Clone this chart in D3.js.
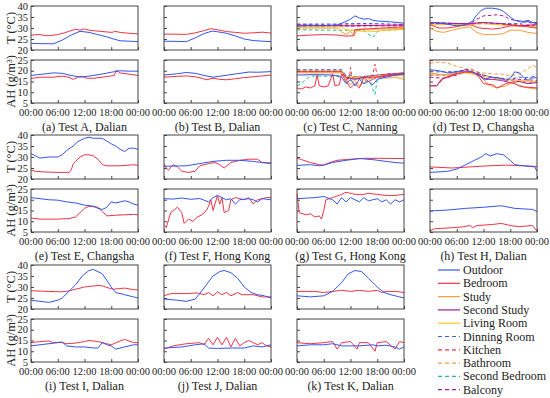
<!DOCTYPE html>
<html>
<head>
<meta charset="utf-8">
<script src="https://cdn.jsdelivr.net/npm/d3@7"></script>
<style>
body{margin:0;background:#fff;}
svg text{font-family:'Times New Roman',Times,'Liberation Serif','DejaVu Serif',serif;fill:#222;}
</style>
</head>
<body>
<svg id="fig"></svg>
<script>
// legend / series styling
var rooms = ["Outdoor","Bedroom","Study","Second Study","Living Room","Dinning Room","Kitchen","Bathroom","Second Bedroom","Balcony"];
var roomColors = ["#3355ee","#ee3344","#ff9a3a","#a8189c","#ffc21a","#3a5cf0","#ee3344","#ff9a3a","#1ec08c","#a8189c"];
var roomDashed = [false,false,false,false,false,true,true,true,true,true];

var timeTicks = [0,6,12,18,24];
var timeLabels = ["00:00","06:00","12:00","18:00","00:00"];
var tTicks = [20,25,30,35,40];
var ahTicks = [5,10,15,20,25];

var captions = ["(a) Test A, Dalian","(b) Test B, Dalian","(c) Test C, Nanning","(d) Test D, Changsha",
  "(e) Test E, Changsha","(f) Test F, Hong Kong","(g) Test G, Hong Kong","(h) Test H, Dalian",
  "(i) Test I, Dalian","(j) Test J, Dalian","(k) Test K, Dalian"];

// ---- (a) [hour, value]
var aT_out = [[0,23],[2,22.9],[5,22.8],[7,24.5],[9,26.8],[11,28.5],[13,28],[15,27],[17,26],[18.5,25],[20,24.2],[22,24],[24,23.8]];
var aT_bed = [[0,26.7],[1,27],[2,27],[3,26.6],[4,26.5],[6,27],[7.5,27.8],[8.5,28.5],[10,29.4],[11,29],[12,29.6],[13,29],[15,28.6],[17,28.2],[18.2,28],[18.8,28.5],[20,28],[22,27.6],[24,27.3]];
var aAH_out = [[0,17.8],[3,18.5],[5,19],[7,18.8],[9,17.8],[11,17],[13,17.5],[16,18.5],[18.5,19.5],[20,20],[22,19.8],[24,19.8]];
var aAH_bed = [[0,16.4],[2,17],[5,17],[7,17.5],[8.5,17],[9.5,16],[10.5,17],[11.3,17.5],[12.5,16.5],[14,16.5],[16,17],[18,17.6],[18.7,17.8],[19.1,20.3],[20,19],[22,18.4],[24,17.8]];
// ---- (b)
var bT_out = [[0,24],[3,23.9],[5,23.8],[7,25.5],[9,27.5],[10.8,28.6],[12,28.3],[14,27.6],[16,26.4],[18,25],[20,24.3],[22,24],[24,23.8]];
var bT_bed = [[0,27.2],[2,27.2],[5,27.1],[7,27.8],[9,28.8],[10.5,29.7],[12,29.2],[14,28.4],[16,28],[18,27.6],[20,27.8],[22,28.1],[24,27.7]];
var bAH_out = [[0,18],[3,18.6],[5,19.2],[7,18.8],[9,17.8],[11,17],[13,17.6],[16,18.5],[19,19.4],[21,19.3],[24,19.6]];
var bAH_bed = [[0,17],[3,17.4],[5,17.6],[7,17.2],[8.5,16.5],[9.5,15.8],[11,16.5],[12.5,16],[14,15.8],[16,16.3],[18,16.8],[20,17.2],[22,17.6],[24,18]];
// ---- (c) Nanning
var cT_out = [[0,30.9],[3,31.1],[6,31],[9,31.4],[10.5,32.5],[12,34],[13,35.5],[14,34.6],[15,34],[16,34.3],[17,33.5],[18,33.2],[21,32.8],[24,32.2]];
var cT_bed = [[0,26.4],[3,26.8],[6,27],[9,26.8],[11,26.3],[12.7,26.5],[13,29.3],[16,29.6],[20,30.1],[24,30.5]];
var cT_study = [[0,30],[9,30],[10,28.2],[11,27],[12,28.5],[12.8,26.5],[13.5,29.2],[15,29.5],[18,29.5],[24,29.8]];
var cT_study2 = [[0,31.3],[12,31],[24,31.4]];
var cT_living = [[0,30.5],[10,30.5],[11,29.2],[14,28.6],[18,28.5],[20,29],[24,29.4]];
var cT_dinning = [[0,31.8],[10,31.8],[12,32.1],[18,32],[24,31.6]];
var cT_kitchen = [[0,31.5],[12,31.4],[24,31.1]];
var cT_bath = [[0,31.2],[24,31]];
var cT_bed2 = [[0,29.2],[9,29],[12,29],[15,28.9],[16,27.2],[17,25.8],[18,28.4],[19,29],[24,29.3]];
var cT_balcony = [[0,30.8],[24,31]];
var cAH_out = [[0,18],[4,18.2],[8,18],[10,17],[11,14],[12,16],[13,13],[14,16],[15,14],[16,15],[17,13.5],[18,16],[20,17],[22,18],[24,18.5]];
var cAH_bed = [[0,12],[1,11.5],[2,12.5],[3,12],[4,13],[4.5,18],[5,13],[6,12.5],[7,13],[8,18.5],[8.5,13],[9.5,13.5],[10,18.5],[11,15],[12,12],[13,14],[14,12],[15,17],[16,15],[17,16],[18,17],[20,18],[22,18.5],[24,19]];
var cAH_study = [[0,19],[10,19],[11,16],[12,13.5],[13,15.5],[14,13],[16,16],[18,17.5],[20,16.5],[22,17],[24,16]];
var cAH_study2 = [[0,19.5],[10,19.5],[11,17],[13,16],[15,17],[18,17],[24,18.5]];
var cAH_living = [[0,20],[10,20],[11,17.5],[13,17],[16,17],[20,18],[24,17.5]];
var cAH_dinning = [[0,20.5],[10,20.5],[11,18],[14,17],[18,18],[24,19]];
var cAH_kitchen = [[0,20],[10,20],[11,16],[11.8,17],[12,21.5],[12.3,17],[14,17],[17,18],[17.5,23],[18,17.5],[20,18.5],[24,19]];
var cAH_bath = [[0,19.8],[10,19.8],[11,15],[13,16],[16,16.5],[20,18],[24,18]];
var cAH_bed2 = [[0,13],[1,14],[2,16],[3,17.5],[5,17.5],[8,17.5],[10,18],[11,17],[13,16.5],[15,16],[16.5,14],[17.5,9],[18,16],[20,18],[24,18]];
var cAH_balcony = [[0,20],[10,20],[11,16],[13,17],[16,17],[20,18.5],[24,18.5]];
// ---- (d) Changsha
var dT_out = [[0,32.5],[3,32],[6,31],[8,31.5],[9.5,33],[10.5,36],[11.5,38],[12.5,39],[14,39],[15.5,38.5],[16.5,37.5],[18,35],[19,33.5],[21,33],[22,33.5],[23,32.5],[24,32.5]];
var dT_bed = [[0,31.5],[2,30],[4,30],[7,31],[9,31.5],[11,30],[14,29.5],[16,30],[18,31],[20,31],[24,30]];
var dT_study = [[0,30],[1.5,28.5],[3,28],[5,29],[7,30],[9,30.5],[10.5,28],[12,27],[15,27],[16.5,27.5],[18,29],[20,29],[22,28],[24,27.5]];
var dT_study2 = [[0,32.5],[6,32],[9,32],[12,32.5],[16,32],[18,31.5],[20,31],[24,31.5]];
var dT_living = [[0,31.5],[6,31.5],[12,32],[18,31],[24,30.5]];
var dT_dinning = [[0,32.5],[8,32],[12,32.5],[16,32],[20,32],[22,33],[24,32]];
var dT_kitchen = [[0,32],[8,31.8],[12,32.2],[18,31.5],[24,31]];
var dT_bath = [[0,31.8],[9,31.5],[12,32],[18,31.5],[24,31.5]];
var dT_balcony = [[0,32],[9,32],[10.5,34],[12,35.5],[15,36],[16.5,35.5],[18,34],[20,33],[24,32]];
var dAH_out = [[0,20.5],[2,20],[4,19],[6,19.5],[8,20.5],[10,19],[11,18],[12,16],[14,17],[16,16.5],[17,15.5],[18,16.5],[19,19.5],[20,19],[21,17],[22,15.5],[23,17.5],[24,16.5]];
var dAH_bed = [[0,13],[1.5,13],[2.5,16],[4,17],[6,18.5],[8,19.5],[10,19],[11,17],[12,14],[14,13.5],[15,12],[16,13],[17,14],[18,14.5],[19,14],[20,13],[21,12.5],[24,12]];
var dAH_study = [[0,19],[3,18],[6,19],[9,19.5],[11,17.5],[12,16],[13,13.5],[15,12],[17,13],[18.5,14.5],[20,13],[22,12],[24,11.5]];
var dAH_study2 = [[0,13],[1.5,13],[3,16.5],[5,18],[7,19.5],[9,19.5],[11,18],[12.5,16],[14,16],[16,15.5],[18,14.5],[20,15],[22,14],[24,14.5]];
var dAH_living = [[0,18.5],[4,18],[8,19],[12,17.5],[16,16],[20,15.5],[24,15]];
var dAH_dinning = [[0,19.5],[4,19.5],[8,20],[12,18],[14,17],[18,16],[20,17],[24,16.5]];
var dAH_kitchen = [[0,18],[4,18],[7,20],[9,21],[12,18],[16,16],[20,15],[24,14.5]];
var dAH_bath = [[0,23.5],[2,24],[4,23.5],[6,22],[8,21],[10,19.5],[12,19],[14,18.5],[16,18.5],[18,17.5],[20,18.5],[22,21],[23,22.5],[24,21.5]];
var dAH_balcony = [[0,17],[3,16.5],[6,18],[9,20],[12,17.5],[16,16],[20,16],[24,15.5]];
// ---- (e) Changsha
var eT_out = [[0,31.5],[1,30.5],[2,29.5],[4,30],[6,30],[7,31],[8,33],[9.5,35],[10.5,37],[12,38.5],[13,39],[14,38.5],[16,38.5],[18,36],[19,35],[20,33.5],[21,32.5],[22,34],[23,34],[24,33.5]];
var eT_bed = [[0,24],[1,23.5],[3,23.2],[6,23],[8.5,23],[9,24],[9.5,27],[10,28],[11,30],[12,31],[13,31],[14,30.5],[15,29],[16,26.5],[17,26],[20,26],[22,26.3],[23,26.5],[24,26.2]];
var eAH_out = [[0,21],[2,20.5],[4,20],[6,19.8],[8,19],[10,18.5],[12,17.5],[14,17],[15,16],[16,15.5],[17,16.5],[18,19],[19,18.5],[20,19],[21,19.5],[22,19],[23,18],[24,17.5]];
var eAH_bed = [[0,11.5],[2,11],[6,11],[8.5,11.2],[10,12],[11,14],[12,16],[13,17],[15,16.5],[16,14.5],[17,12.5],[19,12.8],[21,13],[23,13.2],[24,13]];
// ---- (f) Hong Kong
var fT_out = [[0,25.8],[5,26],[8,27],[11,28],[14,28.5],[17,28.5],[20,28],[22,27.5],[24,27.3]];
var fT_bed = [[0,27],[0.5,25],[1,24],[2,26.5],[3,25.5],[4,23.5],[5.5,23],[7,23.5],[8,26],[10,27],[11.5,27.5],[12.5,26.5],[13.5,25],[15,27.5],[17,28.5],[19,29],[21,29],[22,27.5],[24,27]];
var fAH_out = [[0,20.5],[2,20.3],[4,20.8],[6,20.2],[8,20.6],[10,19],[11,21],[12,22],[13,21],[14,20],[15,20.5],[16,18],[17,20],[19,20.5],[20,20],[21,19],[22,20.5],[24,20]];
var fAH_bed = [[0,8.3],[0.5,7],[1.5,14],[3,16.5],[4,14],[4.5,9],[5.5,11],[6.5,10],[7.5,12],[8.5,13],[9.5,15],[10,17],[10.5,20],[11,15],[12,22],[12.5,18],[13,21],[13.5,14],[14.5,15],[15,20],[16,21],[18,20],[19,21],[20,18],[21,20],[22,20.5],[23,21],[24,21]];
// ---- (g) Hong Kong
var gT_out = [[0,26.2],[3,26.5],[5,26],[6,26.3],[8,27.5],[11,28.5],[14,29.3],[17,28.8],[20,28],[22,27.5],[24,27.2]];
var gT_bed = [[0,29.5],[1,28.8],[3,27.5],[5,26.5],[6,26.3],[7,27.2],[9,28.5],[12,29],[15,29.4],[18,29.4],[24,29.3]];
var gAH_out = [[0,20.5],[4,21],[6,21.5],[8,20],[9,18],[10,21],[11,19],[12,21],[13,20],[14,19],[15,21],[16,19.5],[17,20],[18,20.5],[19,19],[20,20],[21,18],[22,20],[23,19],[24,20]];
var gAH_bed = [[0,23],[0.5,14],[2,13],[3,13.5],[4,12],[5,12.5],[5.5,11],[6,15],[6.5,20],[8,21],[10,22.5],[11,23.5],[12,23],[13,22.5],[15,22.5],[16,23],[18,22.5],[20,22],[22,22],[24,22.5]];
// ---- (h) Dalian
var hT_out = [[0,23],[4,23.5],[6,24.5],[8,26.5],[10,28.5],[11.5,30],[12.5,31.5],[13.5,30.5],[15,31.5],[16.5,31],[18,28.5],[19,26.5],[21,26],[23.5,25.5],[24,23.5]];
var hT_bed = [[0,25.5],[5,25],[9,25.5],[13,26],[17,26.3],[21,26],[24,25.7]];
var hAH_out = [[0,14.8],[4,15.2],[8,16],[12,16.5],[16,17.2],[19,16],[23,15.5],[24,14.5]];
var hAH_bed = [[0,5.5],[1,6.5],[5,7],[7,7.3],[9,8],[9.5,7],[10.5,8],[14,8.5],[16,9],[18,8],[20,7.5],[23,8],[24,5.5]];
// ---- (i) Dalian
var iT_out = [[0,24],[2,23.5],[4,23],[6,24],[7,25],[8.5,28],[10,31],[11.5,35],[13,37.5],[14,38],[16,36],[17,33],[18,30],[19,27.5],[21,26.5],[23,25.5],[24,25]];
var iT_bed = [[0,28.3],[4,28],[6.5,27.8],[8,28],[10,29],[12,30],[15,30.7],[16,30.5],[17.5,29.5],[18.5,29],[20,29.3],[21,29.5],[23,28.8],[24,28.7]];
var iAH_out = [[0,12.5],[2,13],[4,13.5],[6,14],[7,14.3],[8,12.5],[10,12],[12,12],[14,11.5],[15,11.5],[16,14],[17,13],[18,12.5],[19,11],[21,12],[23,13],[24,13]];
var iAH_bed = [[0,14],[2,14.5],[4,14.8],[5,14],[6.5,14.2],[8,13.5],[10,13.8],[12,14.5],[13,15],[15,14.5],[17,13.5],[18,13],[20,14.8],[21,15.5],[23,14],[24,14]];
// ---- (j) Dalian
var jT_out = [[0,24.5],[3,24],[5,23.5],[7,24.5],[8,27],[9.5,31],[11,35],[12.5,37],[13.5,37.5],[15,36.5],[16.5,34],[18,30],[19.5,27.5],[21,26.5],[22.5,26],[24,25]];
var jT_bed = [[0,26],[1.5,27],[5,27],[7.5,27.3],[9,26.5],[10,27.5],[11,26],[12,27.8],[13,26.5],[14,27.5],[15,26],[16.5,27.5],[17.5,26.5],[20,26.5],[22,25.5],[24,25.5]];
var jAH_out = [[0,11.5],[4,12],[7,13],[9,13.5],[10,11.5],[12,11.3],[15,11.5],[18,11.5],[20,12.5],[22,12],[24,13]];
var jAH_bed = [[0,11],[2,12.5],[5,13.5],[8,14],[9,13],[10,16],[11,13],[12,16.5],[13,13],[14,16.5],[15,12],[16,16],[17,12.5],[18,14],[19,15],[20,14],[21,13],[22,14],[23,12.5],[24,12]];
// ---- (k) Dalian
var kT_out = [[0,26],[3,25.5],[6,26],[8,28],[10,32],[11.5,36],[13,37.5],[14.5,37],[16,34],[18,30],[19.5,27.5],[21,26.5],[23,25.5],[24,25]];
var kT_bed = [[0,28],[4,28],[6,27.5],[8,28],[10,28.5],[12,28],[14,28.5],[16,28],[18,28.5],[19,27.5],[20,28],[22,28],[24,27.5]];
var kAH_out = [[0,12.5],[3,13],[6,13],[8,13.5],[10,12.5],[12,12.5],[14,12.5],[17,13],[18,12.5],[20,12.8],[22,12],[23,11],[24,12]];
var kAH_bed = [[0,14],[3,13.5],[6,14],[8,14.5],[9,11],[10,14],[12,14.5],[13.5,11],[14,14],[16,14],[17.5,10],[18,14],[20,14.5],[22,11],[23,14.5],[24,14]];

// panels: [T series, AH series] keyed by room index
var panels = [
  {T:{0:aT_out,1:aT_bed}, AH:{0:aAH_out,1:aAH_bed}},
  {T:{0:bT_out,1:bT_bed}, AH:{0:bAH_out,1:bAH_bed}},
  {T:{0:cT_out,1:cT_bed,2:cT_study,3:cT_study2,4:cT_living,5:cT_dinning,6:cT_kitchen,7:cT_bath,8:cT_bed2,9:cT_balcony},
   AH:{0:cAH_out,1:cAH_bed,2:cAH_study,3:cAH_study2,4:cAH_living,5:cAH_dinning,6:cAH_kitchen,7:cAH_bath,8:cAH_bed2,9:cAH_balcony}},
  {T:{0:dT_out,1:dT_bed,2:dT_study,3:dT_study2,4:dT_living,5:dT_dinning,6:dT_kitchen,7:dT_bath,9:dT_balcony},
   AH:{0:dAH_out,1:dAH_bed,2:dAH_study,3:dAH_study2,4:dAH_living,5:dAH_dinning,6:dAH_kitchen,7:dAH_bath,9:dAH_balcony}},
  {T:{0:eT_out,1:eT_bed}, AH:{0:eAH_out,1:eAH_bed}},
  {T:{0:fT_out,1:fT_bed}, AH:{0:fAH_out,1:fAH_bed}},
  {T:{0:gT_out,1:gT_bed}, AH:{0:gAH_out,1:gAH_bed}},
  {T:{0:hT_out,1:hT_bed}, AH:{0:hAH_out,1:hAH_bed}},
  {T:{0:iT_out,1:iT_bed}, AH:{0:iAH_out,1:iAH_bed}},
  {T:{0:jT_out,1:jT_bed}, AH:{0:jAH_out,1:jAH_bed}},
  {T:{0:kT_out,1:kT_bed}, AH:{0:kAH_out,1:kAH_bed}}
];

var W = 550, H = 398;
var colX = [31, 164, 297, 430], pw = 107;
var rowY = [6, 135, 265], th = 44, ahOff = 54, ahh = 43;
var serif = "Times New Roman, Times, Liberation Serif, DejaVu Serif, serif";

var svg = d3.select("#fig").attr("width", W).attr("height", H);

function drawBox(g, x0, y0, h, yDom, yTicks, showY, showX){
  var x = d3.scaleLinear().domain([0,24]).range([x0, x0+pw]);
  var y = d3.scaleLinear().domain(yDom).range([y0+h, y0]);
  var ya = g.append("g").attr("transform", `translate(${x0},0)`)
    .call(d3.axisRight(y).tickValues(yTicks).tickSize(3).tickFormat(""));
  ya.select(".domain").remove();
  ya.selectAll("line").attr("stroke","#444");
  if (showY) {
    g.selectAll(null).data(yTicks).enter().append("text")
      .attr("x", x0-3).attr("y", function(d){return y(d)+3.5;})
      .style("font-family", serif)
      .attr("text-anchor","end").attr("font-size","10.5px").text(function(d){return d;});
  }
  var xa = g.append("g").attr("transform", `translate(0,${y0+h})`)
    .call(d3.axisTop(x).tickValues(timeTicks).tickSize(3).tickFormat(""));
  xa.select(".domain").remove();
  xa.selectAll("line").attr("stroke","#444");
  if (showX) {
    g.selectAll(null).data(timeTicks).enter().append("text")
      .attr("x", function(d){return x(d);}).attr("y", y0+h+13)
      .style("font-family", serif)
      .attr("text-anchor","middle").attr("font-size","10.5px")
      .text(function(d,i){return timeLabels[i];});
  }
  return {x:x, y:y};
}

function drawSeries(g, sc, series, clipId){
  var line = d3.line().x(function(d){return sc.x(d[0]);}).y(function(d){return sc.y(d[1]);});
  var keys = Object.keys(series).map(Number).sort(function(a,b){return b-a;});
  // dashed rooms first, outdoor last
  keys.forEach(function(k){
    g.append("path").datum(series[k])
      .attr("d", line).attr("fill","none")
      .attr("clip-path", `url(#${clipId})`)
      .attr("stroke", roomColors[k]).attr("stroke-width", 1)
      .attr("stroke-dasharray", roomDashed[k] ? "3.5,2.5" : null);
  });
}

var defs = svg.append("defs");

panels.forEach(function(p, i){
  var col = i % 4, row = Math.floor(i / 4);
  var x0 = colX[col], y0 = rowY[row];
  var g = svg.append("g");

  var tY = y0, aY = y0 + ahOff;
  defs.append("clipPath").attr("id","ct"+i).append("rect").attr("x",x0).attr("y",tY).attr("width",pw).attr("height",th);
  defs.append("clipPath").attr("id","ca"+i).append("rect").attr("x",x0).attr("y",aY).attr("width",pw).attr("height",ahh);

  var sT = drawBox(g, x0, tY, th, [20,40], tTicks, col===0, false);
  drawSeries(g, sT, p.T, "ct"+i);
  var sA = drawBox(g, x0, aY, ahh, [5,25], ahTicks, col===0, true);
  drawSeries(g, sA, p.AH, "ca"+i);

  g.append("rect").attr("x",x0).attr("y",tY).attr("width",pw).attr("height",th)
    .attr("fill","none").attr("stroke","#444").attr("stroke-width",1);
  g.append("rect").attr("x",x0).attr("y",aY).attr("width",pw).attr("height",ahh)
    .attr("fill","none").attr("stroke","#444").attr("stroke-width",1);

  g.append("text").attr("x", x0+pw/2).attr("y", y0+125)
    .style("font-family", serif)
    .attr("text-anchor","middle").attr("font-size","12px").text(captions[i]);

  if (col === 0) {
    g.append("text").attr("transform", `translate(15,${tY+th/2}) rotate(-90)`)
      .style("font-family", serif)
      .attr("text-anchor","middle").attr("font-size","12.5px").text("T (°C)");
    g.append("text").attr("transform", `translate(15,${aY+ahh/2}) rotate(-90)`)
      .style("font-family", serif)
      .attr("text-anchor","middle").attr("font-size","12.5px").text("AH (g/m³)");
  }
});

// legend
var leg = svg.append("g").attr("transform","translate(438,270)");
var li = leg.selectAll("g").data(rooms).enter().append("g")
  .attr("transform", function(d,i){return `translate(0,${i*13.3})`;});
li.append("line").attr("x1",0).attr("x2",22).attr("y1",0).attr("y2",0)
  .attr("stroke", function(d,i){return roomColors[i];}).attr("stroke-width",1.2)
  .attr("stroke-dasharray", function(d,i){return roomDashed[i] ? "4,3" : null;});
li.append("text").attr("x",25).attr("y",4).style("font-family", serif)
  .attr("font-size","12px").text(function(d){return d;});
</script>
</body>
</html>
